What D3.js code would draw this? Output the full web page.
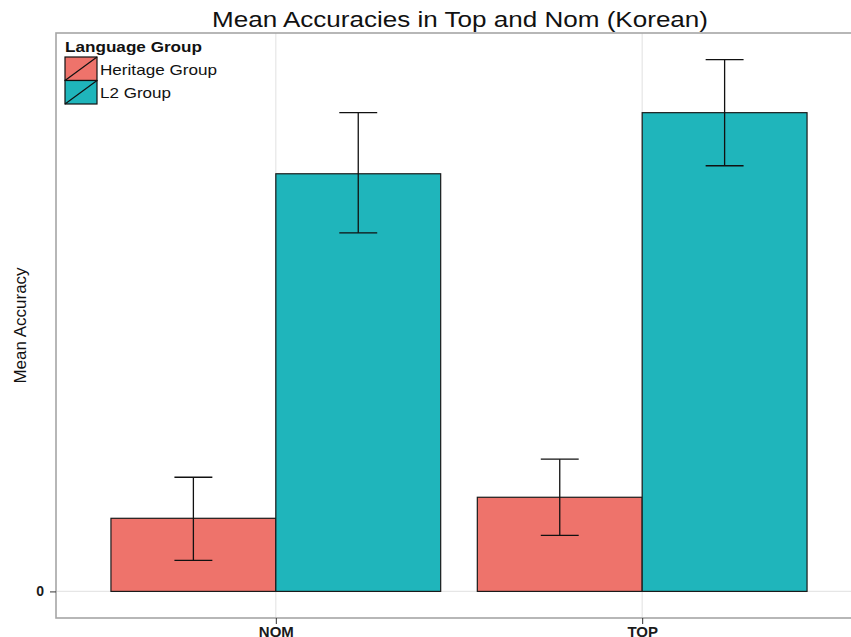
<!DOCTYPE html>
<html>
<head>
<meta charset="utf-8">
<script src="https://cdn.jsdelivr.net/npm/d3@7"></script>
<style>
  body { margin: 0; background: #fff; }
  text { font-family: "Liberation Sans", Arial, sans-serif; }
</style>
</head>
<body>
<div id="chart"></div>
<script>
const conditions = ["NOM", "TOP"];
const groups = ["Heritage Group", "L2 Group"];
const colors = ["#ee736b", "#1fb5bb"];

// mean accuracy with lower / upper error bounds, one array per group (NOM, TOP)
const heritageMean = [0.073, 0.094];
const heritageLow = [0.031, 0.056];
const heritageHigh = [0.114, 0.132];
const l2Mean = [0.417, 0.478];
const l2Low = [0.358, 0.425];
const l2High = [0.478, 0.531];

const yTicks = [0];

const width = 851;
const height = 637;
const margin = {top: 33, right: -11, bottom: 19, left: 56};

const rows = [];
conditions.forEach((c, i) => {
    rows.push({cond: c, group: groups[0], mean: heritageMean[i], lo: heritageLow[i], hi: heritageHigh[i]});
    rows.push({cond: c, group: groups[1], mean: l2Mean[i], lo: l2Low[i], hi: l2High[i]});
});

const svg = d3.select('#chart')
    .append('svg')
    .attr('width', width)
    .attr('height', height);

// discrete x scale with ggplot-style 0.6 unit expansion
const xScale = d3.scalePoint()
    .domain(conditions)
    .range([margin.left, width - margin.right])
    .padding(0.6);
const step = xScale.step();
const dodge = step * 0.9;

const xGroup = d3.scaleBand()
    .domain(groups)
    .range([-dodge / 2, dodge / 2]);

const yMax = d3.max(rows, d => d.hi);
const yScale = d3.scaleLinear()
    .domain([-0.05 * yMax, yMax * 1.05])
    .range([height - margin.bottom, margin.top]);

const color = d3.scaleOrdinal().domain(groups).range(colors);

const panel = {x0: margin.left, x1: width - margin.right, y0: margin.top, y1: height - margin.bottom};

// grid
svg.append('g')
    .selectAll('line')
    .data(yTicks)
    .enter()
    .append('line')
    .attr('x1', panel.x0).attr('x2', panel.x1)
    .attr('y1', d => yScale(d)).attr('y2', d => yScale(d))
    .attr('stroke', '#e6e6e6')
    .attr('stroke-width', 1.2);

svg.append('g')
    .selectAll('line')
    .data(conditions)
    .enter()
    .append('line')
    .attr('x1', d => xScale(d)).attr('x2', d => xScale(d))
    .attr('y1', panel.y0).attr('y2', panel.y1)
    .attr('stroke', '#e6e6e6')
    .attr('stroke-width', 1.2);

// bars
svg.append('g')
    .selectAll('rect')
    .data(rows)
    .enter()
    .append('rect')
    .attr('x', d => xScale(d.cond) + xGroup(d.group))
    .attr('y', d => yScale(d.mean))
    .attr('width', xGroup.bandwidth())
    .attr('height', d => yScale(0) - yScale(d.mean))
    .attr('fill', d => color(d.group))
    .attr('stroke', '#1a1a1a')
    .attr('stroke-width', 1.2);

// error bars
const capW = xGroup.bandwidth() * 0.23;
const eb = svg.append('g')
    .selectAll('g')
    .data(rows)
    .enter()
    .append('g')
    .attr('stroke', '#111')
    .attr('stroke-width', 1.3);
const cx = d => xScale(d.cond) + xGroup(d.group) + xGroup.bandwidth() / 2;
eb.append('line')
    .attr('x1', cx).attr('x2', cx)
    .attr('y1', d => yScale(d.lo)).attr('y2', d => yScale(d.hi));
eb.append('line')
    .attr('x1', d => cx(d) - capW / 2).attr('x2', d => cx(d) + capW / 2)
    .attr('y1', d => yScale(d.lo)).attr('y2', d => yScale(d.lo));
eb.append('line')
    .attr('x1', d => cx(d) - capW / 2).attr('x2', d => cx(d) + capW / 2)
    .attr('y1', d => yScale(d.hi)).attr('y2', d => yScale(d.hi));

// panel border
svg.append('rect')
    .attr('x', panel.x0).attr('y', panel.y0)
    .attr('width', panel.x1 - panel.x0)
    .attr('height', panel.y1 - panel.y0)
    .attr('fill', 'none')
    .attr('stroke', '#a6a6a6')
    .attr('stroke-width', 1.6);

// axes
const xAxis = svg.append('g')
    .attr('transform', `translate(0,${panel.y1})`)
    .call(d3.axisBottom(xScale).tickSize(6).tickPadding(2));
xAxis.select('.domain').remove();
xAxis.selectAll('line').attr('stroke', '#333');
xAxis.selectAll('text')
    .attr('font-size', 15)
    .attr('font-weight', 'bold')
    .attr('fill', '#1a1a1a');

const yAxis = svg.append('g')
    .attr('transform', `translate(${panel.x0},0)`)
    .call(d3.axisLeft(yScale).tickValues(yTicks).tickFormat(d3.format('d')).tickSize(6).tickPadding(6));
yAxis.select('.domain').remove();
yAxis.selectAll('line').attr('stroke', '#333');
yAxis.selectAll('text')
    .attr('font-size', 14)
    .attr('font-weight', 'bold')
    .attr('fill', '#1a1a1a');

// title
svg.append('text')
    .attr('x', 460)
    .attr('y', 27)
    .attr('text-anchor', 'middle')
    .attr('font-size', 22)
    .attr('textLength', 496)
    .attr('lengthAdjust', 'spacingAndGlyphs')
    .attr('fill', '#111')
    .text('Mean Accuracies in Top and Nom (Korean)');

// y label
svg.append('text')
    .attr('transform', `translate(26,${(panel.y0 + panel.y1) / 2}) rotate(-90)`)
    .attr('text-anchor', 'middle')
    .attr('font-size', 17)
    .attr('fill', '#111')
    .attr('font-family', 'Liberation Sans Narrow, Liberation Sans, sans-serif')
    .text('Mean Accuracy');

// legend
const legend = svg.append('g').attr('transform', 'translate(65,0)');
legend.append('text')
    .attr('x', 0).attr('y', 52)
    .attr('font-size', 15)
    .attr('font-weight', 'bold')
    .attr('textLength', 137)
    .attr('lengthAdjust', 'spacingAndGlyphs')
    .attr('fill', '#111')
    .text('Language Group');
const labelLen = [117, 71];
const keys = legend.selectAll('g.key')
    .data(groups)
    .enter()
    .append('g')
    .attr('class', 'key')
    .attr('transform', (d, i) => `translate(0,${57 + i * 23.5})`);
keys.append('rect')
    .attr('width', 32).attr('height', 23.5)
    .attr('fill', d => color(d))
    .attr('stroke', '#111')
    .attr('stroke-width', 1.2);
keys.append('line')
    .attr('x1', 0).attr('y1', 23.5).attr('x2', 32).attr('y2', 0)
    .attr('stroke', '#111')
    .attr('stroke-width', 1.2);
keys.append('text')
    .attr('x', 35).attr('y', 17.5)
    .attr('font-size', 15)
    .attr('textLength', (d, i) => labelLen[i])
    .attr('lengthAdjust', 'spacingAndGlyphs')
    .attr('fill', '#111')
    .text(d => d);
</script>
</body>
</html>
